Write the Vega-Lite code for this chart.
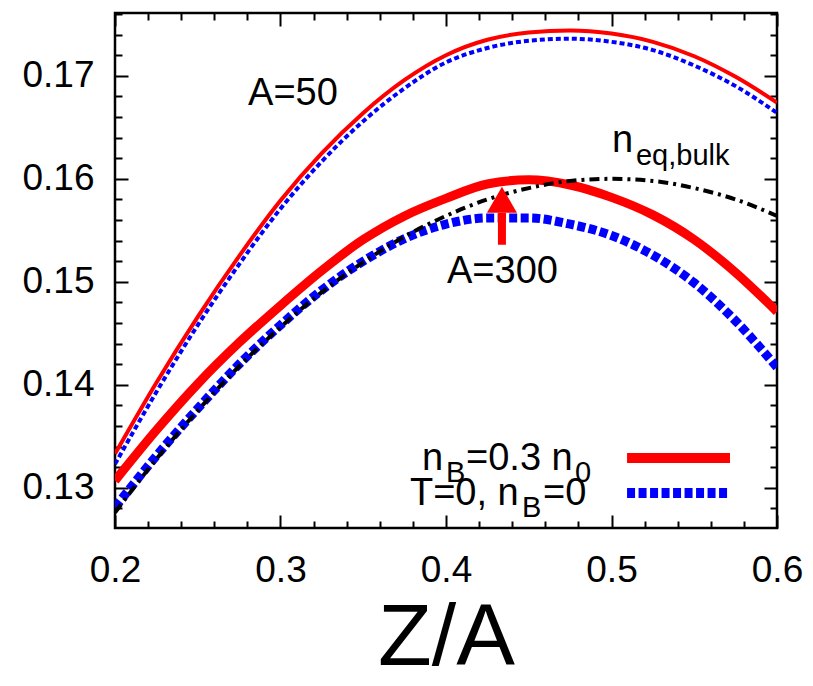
{
  "$schema": "https://vega.github.io/schema/vega-lite/v6.json",
  "width": 662,
  "height": 515,
  "autosize": {"type": "none"},
  "padding": {"left": 115, "top": 13, "right": 36, "bottom": 158},
  "background": "white",
  "config": {
    "view": {"stroke": "black", "strokeWidth": 2.5},
    "font": "Liberation Sans",
    "axis": {"grid": false, "labelFlush": false, "labelFont": "Liberation Sans", "titleFont": "Liberation Sans", "labelColor": "black", "titleColor": "black", "tickColor": "black"}
  },
  "datasets": {
    "curves": [
      {"x": 0.2, "y": 0.1333, "s": "A50_nB"}, {"x": 0.225, "y": 0.1402, "s": "A50_nB"}, {"x": 0.25, "y": 0.1466, "s": "A50_nB"}, {"x": 0.275, "y": 0.1525, "s": "A50_nB"}, {"x": 0.3, "y": 0.1579, "s": "A50_nB"}, {"x": 0.325, "y": 0.1625, "s": "A50_nB"}, {"x": 0.35, "y": 0.1664, "s": "A50_nB"}, {"x": 0.375, "y": 0.1696, "s": "A50_nB"}, {"x": 0.4, "y": 0.172, "s": "A50_nB"}, {"x": 0.425, "y": 0.1735, "s": "A50_nB"}, {"x": 0.45, "y": 0.1742, "s": "A50_nB"}, {"x": 0.475, "y": 0.1744, "s": "A50_nB"}, {"x": 0.5, "y": 0.1741, "s": "A50_nB"}, {"x": 0.525, "y": 0.1733, "s": "A50_nB"}, {"x": 0.55, "y": 0.1719, "s": "A50_nB"}, {"x": 0.575, "y": 0.1699, "s": "A50_nB"}, {"x": 0.6, "y": 0.1674, "s": "A50_nB"},
      {"x": 0.2, "y": 0.1323, "s": "A50_T0"}, {"x": 0.225, "y": 0.1393, "s": "A50_T0"}, {"x": 0.25, "y": 0.1458, "s": "A50_T0"}, {"x": 0.275, "y": 0.1517, "s": "A50_T0"}, {"x": 0.3, "y": 0.1571, "s": "A50_T0"}, {"x": 0.325, "y": 0.1617, "s": "A50_T0"}, {"x": 0.35, "y": 0.1656, "s": "A50_T0"}, {"x": 0.375, "y": 0.1688, "s": "A50_T0"}, {"x": 0.4, "y": 0.1713, "s": "A50_T0"}, {"x": 0.425, "y": 0.1727, "s": "A50_T0"}, {"x": 0.45, "y": 0.1734, "s": "A50_T0"}, {"x": 0.475, "y": 0.1736, "s": "A50_T0"}, {"x": 0.5, "y": 0.1733, "s": "A50_T0"}, {"x": 0.525, "y": 0.1725, "s": "A50_T0"}, {"x": 0.55, "y": 0.171, "s": "A50_T0"}, {"x": 0.575, "y": 0.169, "s": "A50_T0"}, {"x": 0.6, "y": 0.1664, "s": "A50_T0"},
      {"x": 0.2, "y": 0.1307, "s": "A300_nB"}, {"x": 0.225, "y": 0.1356, "s": "A300_nB"}, {"x": 0.25, "y": 0.1401, "s": "A300_nB"}, {"x": 0.275, "y": 0.1441, "s": "A300_nB"}, {"x": 0.3, "y": 0.1477, "s": "A300_nB"}, {"x": 0.325, "y": 0.1511, "s": "A300_nB"}, {"x": 0.35, "y": 0.1541, "s": "A300_nB"}, {"x": 0.375, "y": 0.1564, "s": "A300_nB"}, {"x": 0.4, "y": 0.1581, "s": "A300_nB"}, {"x": 0.425, "y": 0.1595, "s": "A300_nB"}, {"x": 0.45, "y": 0.1599, "s": "A300_nB"}, {"x": 0.475, "y": 0.1594, "s": "A300_nB"}, {"x": 0.5, "y": 0.1582, "s": "A300_nB"}, {"x": 0.525, "y": 0.1565, "s": "A300_nB"}, {"x": 0.55, "y": 0.1541, "s": "A300_nB"}, {"x": 0.575, "y": 0.1509, "s": "A300_nB"}, {"x": 0.6, "y": 0.1471, "s": "A300_nB"},
      {"x": 0.2, "y": 0.1281, "s": "A300_T0"}, {"x": 0.225, "y": 0.1331, "s": "A300_T0"}, {"x": 0.25, "y": 0.1377, "s": "A300_T0"}, {"x": 0.275, "y": 0.142, "s": "A300_T0"}, {"x": 0.3, "y": 0.1458, "s": "A300_T0"}, {"x": 0.325, "y": 0.1492, "s": "A300_T0"}, {"x": 0.35, "y": 0.152, "s": "A300_T0"}, {"x": 0.375, "y": 0.1542, "s": "A300_T0"}, {"x": 0.4, "y": 0.1556, "s": "A300_T0"}, {"x": 0.425, "y": 0.1562, "s": "A300_T0"}, {"x": 0.45, "y": 0.1562, "s": "A300_T0"}, {"x": 0.475, "y": 0.1556, "s": "A300_T0"}, {"x": 0.5, "y": 0.1545, "s": "A300_T0"}, {"x": 0.525, "y": 0.1526, "s": "A300_T0"}, {"x": 0.55, "y": 0.1499, "s": "A300_T0"}, {"x": 0.575, "y": 0.1462, "s": "A300_T0"}, {"x": 0.6, "y": 0.1417, "s": "A300_T0"},
      {"x": 0.2, "y": 0.1276, "s": "neq"}, {"x": 0.225, "y": 0.1328, "s": "neq"}, {"x": 0.25, "y": 0.1375, "s": "neq"}, {"x": 0.275, "y": 0.1418, "s": "neq"}, {"x": 0.3, "y": 0.1456, "s": "neq"}, {"x": 0.325, "y": 0.149, "s": "neq"}, {"x": 0.35, "y": 0.1519, "s": "neq"}, {"x": 0.375, "y": 0.1544, "s": "neq"}, {"x": 0.4, "y": 0.1564, "s": "neq"}, {"x": 0.425, "y": 0.158, "s": "neq"}, {"x": 0.45, "y": 0.1591, "s": "neq"}, {"x": 0.475, "y": 0.1598, "s": "neq"}, {"x": 0.5, "y": 0.16, "s": "neq"}, {"x": 0.525, "y": 0.1598, "s": "neq"}, {"x": 0.55, "y": 0.1591, "s": "neq"}, {"x": 0.575, "y": 0.158, "s": "neq"}, {"x": 0.6, "y": 0.1564, "s": "neq"}
    ],
    "mainText": [
      {"x": 0.2804, "y": 0.1672, "t": "A=50"},
      {"x": 0.4006, "y": 0.1499, "t": "A=300"},
      {"x": 0.5003, "y": 0.1626, "t": "n"},
      {"x": 0.3855, "y": 0.13175, "t": "n"},
      {"x": 0.4121, "y": 0.13175, "t": "=0.3 n"},
      {"x": 0.3782, "y": 0.12835, "t": "T=0, n"},
      {"x": 0.4586, "y": 0.12835, "t": "=0"}
    ],
    "subText": [
      {"x": 0.5148, "y": 0.16136, "t": "eq,bulk"},
      {"x": 0.4, "y": 0.13058, "t": "B"},
      {"x": 0.4779, "y": 0.13058, "t": "0"},
      {"x": 0.4459, "y": 0.12718, "t": "B"}
    ],
    "legendLines": [
      {"x": 0.5094, "x2": 0.5716, "y": 0.1329, "s": "nB"},
      {"x": 0.5094, "x2": 0.5716, "y": 0.1295, "s": "T0"}
    ],
    "arrow": [
      {"x": 0.4338, "y": 0.1536, "y2": 0.1567, "yh": 0.15796}
    ]
  },
  "resolve": {"axis": {"x": "independent", "y": "independent"}},
  "layer": [
    {
      "data": {"name": "curves"},
      "transform": [{"filter": "datum.s === 'A50_nB'"}],
      "mark": {"type": "line", "color": "#ff0000", "strokeWidth": 4, "interpolate": "monotone", "clip": true},
      "encoding": {
        "x": {"field": "x", "type": "quantitative", "scale": {"domain": [0.2, 0.6], "nice": false, "zero": false},
          "axis": {"values": [0.2, 0.3, 0.4, 0.5, 0.6], "format": ".1f", "ticks": false, "tickSize": 0, "domain": false, "labelFontSize": 37, "labelPadding": 24, "title": "Z/A", "titleFontSize": 88, "titleFontWeight": "normal", "titlePadding": 6}},
        "y": {"field": "y", "type": "quantitative", "scale": {"domain": [0.1261, 0.1761], "nice": false, "zero": false},
          "axis": {"values": [0.13, 0.14, 0.15, 0.16, 0.17], "format": ".2f", "ticks": false, "tickSize": 0, "domain": false, "labelFontSize": 37, "labelPadding": 21, "title": null}}
      }
    },
    {
      "data": {"name": "curves"},
      "transform": [{"filter": "datum.s === 'A50_T0'"}],
      "mark": {"type": "line", "color": "#0000ff", "strokeWidth": 4, "strokeDash": [5, 3], "interpolate": "monotone", "clip": true},
      "encoding": {
        "x": {"field": "x", "type": "quantitative", "scale": {"domain": [0.2, 0.6], "nice": false, "zero": false},
          "axis": {"orient": "bottom", "values": [0.2, 0.22, 0.24, 0.26, 0.28, 0.3, 0.32, 0.34, 0.36, 0.38, 0.4, 0.42, 0.44, 0.46, 0.48, 0.5, 0.52, 0.54, 0.56, 0.58, 0.6], "labels": false, "domain": false, "tickWidth": 2,
            "tickSize": {"condition": {"test": "abs(datum.value*10 - round(datum.value*10)) < 0.001", "value": -13}, "value": -7}, "title": null}},
        "y": {"field": "y", "type": "quantitative", "scale": {"domain": [0.1261, 0.1761], "nice": false, "zero": false},
          "axis": {"orient": "left", "values": [0.128, 0.13, 0.132, 0.134, 0.136, 0.138, 0.14, 0.142, 0.144, 0.146, 0.148, 0.15, 0.152, 0.154, 0.156, 0.158, 0.16, 0.162, 0.164, 0.166, 0.168, 0.17, 0.172, 0.174, 0.176], "labels": false, "domain": false, "tickWidth": 2,
            "tickSize": {"condition": {"test": "abs(datum.value*100 - round(datum.value*100)) < 0.001", "value": -13}, "value": -7}, "title": null}}
      }
    },
    {
      "data": {"name": "curves"},
      "transform": [{"filter": "datum.s === 'A300_nB'"}],
      "mark": {"type": "line", "color": "#ff0000", "strokeWidth": 9, "interpolate": "monotone", "clip": true},
      "encoding": {
        "x": {"field": "x", "type": "quantitative", "scale": {"domain": [0.2, 0.6], "nice": false, "zero": false},
          "axis": {"orient": "top", "values": [0.2, 0.22, 0.24, 0.26, 0.28, 0.3, 0.32, 0.34, 0.36, 0.38, 0.4, 0.42, 0.44, 0.46, 0.48, 0.5, 0.52, 0.54, 0.56, 0.58, 0.6], "labels": false, "domain": false, "tickWidth": 2,
            "tickSize": {"condition": {"test": "abs(datum.value*10 - round(datum.value*10)) < 0.001", "value": -13}, "value": -7}, "title": null}},
        "y": {"field": "y", "type": "quantitative", "scale": {"domain": [0.1261, 0.1761], "nice": false, "zero": false},
          "axis": {"orient": "right", "values": [0.128, 0.13, 0.132, 0.134, 0.136, 0.138, 0.14, 0.142, 0.144, 0.146, 0.148, 0.15, 0.152, 0.154, 0.156, 0.158, 0.16, 0.162, 0.164, 0.166, 0.168, 0.17, 0.172, 0.174, 0.176], "labels": false, "domain": false, "tickWidth": 2,
            "tickSize": {"condition": {"test": "abs(datum.value*100 - round(datum.value*100)) < 0.001", "value": -13}, "value": -7}, "title": null}}
      }
    },
    {
      "data": {"name": "curves"},
      "transform": [{"filter": "datum.s === 'A300_T0'"}],
      "mark": {"type": "line", "color": "#0000ff", "strokeWidth": 9, "strokeDash": [8, 3.5], "interpolate": "monotone", "clip": true},
      "encoding": {
        "x": {"field": "x", "type": "quantitative", "axis": null},
        "y": {"field": "y", "type": "quantitative", "axis": null}
      }
    },
    {
      "data": {"name": "curves"},
      "transform": [{"filter": "datum.s === 'neq'"}],
      "mark": {"type": "line", "color": "black", "strokeWidth": 4, "strokeDash": [10, 5, 3, 5], "interpolate": "monotone", "clip": true},
      "encoding": {
        "x": {"field": "x", "type": "quantitative", "axis": null},
        "y": {"field": "y", "type": "quantitative", "axis": null}
      }
    },
    {
      "data": {"name": "arrow"},
      "mark": {"type": "rule", "color": "#ff0000", "strokeWidth": 8},
      "encoding": {
        "x": {"field": "x", "type": "quantitative", "axis": null},
        "y": {"field": "y", "type": "quantitative", "axis": null},
        "y2": {"field": "y2"}
      }
    },
    {
      "data": {"name": "arrow"},
      "mark": {"type": "point", "shape": "triangle-up", "size": 900, "filled": true, "color": "#ff0000", "opacity": 1},
      "encoding": {
        "x": {"field": "x", "type": "quantitative", "axis": null},
        "y": {"field": "yh", "type": "quantitative", "axis": null}
      }
    },
    {
      "data": {"name": "legendLines"},
      "transform": [{"filter": "datum.s === 'nB'"}],
      "mark": {"type": "rule", "color": "#ff0000", "strokeWidth": 10},
      "encoding": {
        "x": {"field": "x", "type": "quantitative", "axis": null},
        "x2": {"field": "x2"},
        "y": {"field": "y", "type": "quantitative", "axis": null}
      }
    },
    {
      "data": {"name": "legendLines"},
      "transform": [{"filter": "datum.s === 'T0'"}],
      "mark": {"type": "rule", "color": "#0000ff", "strokeWidth": 10, "strokeDash": [8, 3.5]},
      "encoding": {
        "x": {"field": "x", "type": "quantitative", "axis": null},
        "x2": {"field": "x2"},
        "y": {"field": "y", "type": "quantitative", "axis": null}
      }
    },
    {
      "data": {"name": "mainText"},
      "mark": {"type": "text", "align": "left", "baseline": "alphabetic", "fontSize": 38, "font": "Liberation Sans", "color": "black"},
      "encoding": {
        "x": {"field": "x", "type": "quantitative", "axis": null},
        "y": {"field": "y", "type": "quantitative", "axis": null},
        "text": {"field": "t"}
      }
    },
    {
      "data": {"name": "subText"},
      "mark": {"type": "text", "align": "left", "baseline": "alphabetic", "fontSize": 29, "font": "Liberation Sans", "color": "black"},
      "encoding": {
        "x": {"field": "x", "type": "quantitative", "axis": null},
        "y": {"field": "y", "type": "quantitative", "axis": null},
        "text": {"field": "t"}
      }
    }
  ]
}
